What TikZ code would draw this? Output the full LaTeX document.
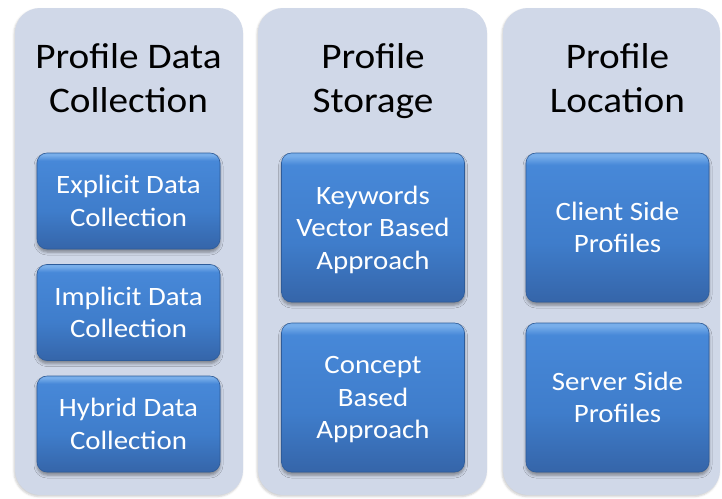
\documentclass[tikz,border=0pt]{standalone}
\usepackage{fontspec}
\setmainfont{Carlito}[FakeStretch=1.09]
\usetikzlibrary{shadows.blur}

\definecolor{panelbg}{HTML}{D0D8E8}
\definecolor{boxlit}{HTML}{78AEEA}
\definecolor{boxtop}{HTML}{4788D8}
\definecolor{boxmid}{HTML}{3F7DCB}
\definecolor{boxbot}{HTML}{3565A9}
\definecolor{boxedge}{HTML}{2E5C9A}
% blue bevel: light rim at the top, darker towards the bottom
\pgfdeclareverticalshading{boxblue}{100bp}{color(0bp)=(boxbot); color(25bp)=(boxbot);
  color(45bp)=(boxmid); color(71bp)=(boxtop); color(74bp)=(boxlit); color(100bp)=(boxlit)}

\tikzset{
  panel/.style={fill=panelbg, rounded corners=25pt,
    blur shadow={shadow xshift=-1pt, shadow yshift=-1.5pt, shadow opacity=20, shadow blur radius=2pt}},
  ptitle/.style={font=\fontsize{36}{44}\selectfont, align=center, anchor=north, inner sep=0pt},
  pbox/.style={draw=boxedge, line width=0.6pt, rounded corners=10pt, shading=boxblue,
    text=white, font=\fontsize{26.5}{32.5}\selectfont, align=center, inner sep=0pt,
    text depth=0pt, minimum width=183pt,
    blur shadow={shadow xshift=0pt, shadow yshift=-3pt, shadow opacity=40, shadow blur radius=3pt}}
}

\begin{document}
\begin{tikzpicture}[x=1pt,y=-1pt]
\useasboundingbox (0,0) rectangle (722,498);

% the three columns
\node[panel, minimum width=228pt, minimum height=487pt] (col1) at (129,251.5) {};
\node[panel, minimum width=229pt, minimum height=487pt] (col2) at (372.5,251.5) {};
\node[panel, minimum width=217pt, minimum height=487pt] (col3) at (611.5,251.5) {};

\node[ptitle] (title1) at (128.5,43) {Profile Data\\Collection};
\node[ptitle] (title2) at (373,43) {Profile\\Storage};
\node[ptitle] (title3) at (617.5,43) {Profile\\Location};

% data collection
\node[pbox, minimum height=96pt] (explicit) at (128.5,201) {Explicit Data\\Collection};
\node[pbox, minimum height=96pt] (implicit) at (128.5,312.5) {Implicit Data\\Collection};
\node[pbox, minimum height=96pt] (hybrid) at (128.5,424) {Hybrid Data\\Collection};

% storage
\node[pbox, minimum height=149pt] (keywords) at (373,227.5) {Keywords\\Vector Based\\Approach};
\node[pbox, minimum height=149pt] (concept) at (373,397.5) {Concept\\Based\\Approach};

% location
\node[pbox, minimum height=149pt] (client) at (617.5,227.5) {Client Side\\Profiles};
\node[pbox, minimum height=149pt] (server) at (617.5,397.5) {Server Side\\Profiles};
\end{tikzpicture}
\end{document}
